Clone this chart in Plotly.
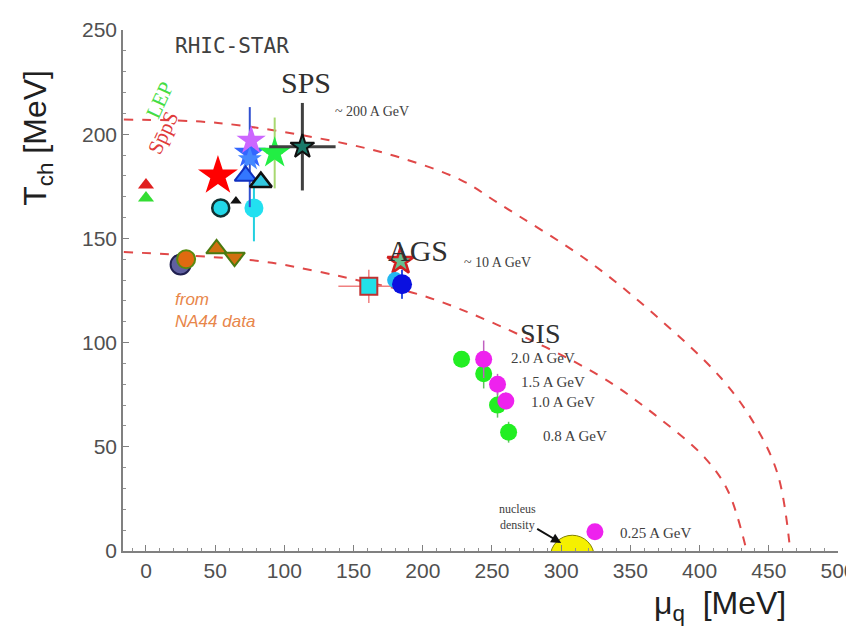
import plotly.graph_objects as go

# ---- freeze-out curves ----
outer_mu = [-16, 52, 131.5, 180, 227.6, 254.3, 319.4, 367.8, 415.5, 440, 456.6, 465.5]
outer_T = [207, 205.4, 197.2, 189.5, 178, 167, 139.2, 113.2, 83, 60.5, 36.5, 0]
inner_mu = [-16, 83, 122, 155.3, 198.7, 254.3, 326.6, 367.8, 404, 420.5, 434]
inner_T = [143.5, 139, 134.4, 129.6, 122.8, 108.4, 84.5, 65.3, 44.6, 28.8, 0]

# ---- data points ----
lep_mu = [0]; lep_T_red = [175.6]; lep_T_green = [169.4]
rhic_mu = [52]; rhic_T = [180]
cyc_mu = [54]; cyc_T = [164.6]
blk_mu = [65]; blk_T = [168]
cy2_mu = [78]; cy2_T = [164.6]; cy2_up = [10]; cy2_dn = [16]
btri_mu = [72]; btri_T = [180]
ctri_mu = [83]; ctri_T = [177]
vstar_mu = [76]; vstar_T = [197]
bstar_mu = [75]; bstar_T = [191]; bstar_up = [22]; bstar_dn = [26]
gstar_mu = [93]; gstar_T = [191]; gstar_up = [17]; gstar_dn = [17]
dstar_mu = [113]; dstar_T = [194]; dstar_ex = [24]; dstar_up = [21]; dstar_dn = [21]
na_navy_mu = [25]; na_navy_T = [137.5]
na_or_mu = [29]; na_or_T = [140]
na_tu_mu = [51]; na_tu_T = [145]
na_td_mu = [64]; na_td_T = [141]
ags_sq_mu = [161]; ags_sq_T = [127]; ags_sq_ex = [22]; ags_sq_ey = [8]
ags_star_mu = [184]; ags_star_T = [139]
ags_cc_mu = [180]; ags_cc_T = [130]
ags_bc_mu = [185]; ags_bc_T = [128]; ags_bc_ey = [7]
sis_g_mu = [228, 244, 254, 262]; sis_g_T = [92, 85, 70, 57]; sis_g_ey = [0, 7, 6, 5]
sis_m_mu = [244, 254, 260, 324.4]; sis_m_T = [92, 80, 72, 9.2]; sis_m_ey = [9, 5, 4, 0]
nuc_mu = [308]; nuc_T = [-3]

x_ticks = [0, 50, 100, 150, 200, 250, 300, 350, 400, 450, 500]
y_ticks = [0, 50, 100, 150, 200, 250]

fig = go.Figure()
red_line = "#e04848"
fig.add_trace(go.Scatter(x=outer_mu, y=outer_T, mode="lines", line=dict(color=red_line, width=2, dash="dash", shape="spline")))
fig.add_trace(go.Scatter(x=inner_mu, y=inner_T, mode="lines", line=dict(color=red_line, width=2, dash="dash", shape="spline")))

def pts(x, y, symbol, color, size, lc=None, lw=0, ey=None, eyd=None, ex=None, ecol=None, ew=2):
    kw = {}
    if ey is not None:
        kw["error_y"] = dict(type="data", array=ey, arrayminus=eyd if eyd is not None else ey,
                             color=ecol or color, thickness=ew, width=0)
    if ex is not None:
        kw["error_x"] = dict(type="data", array=ex, color=ecol or color, thickness=ew, width=0)
    fig.add_trace(go.Scatter(x=x, y=y, mode="markers",
                             marker=dict(symbol=symbol, color=color, size=size,
                                         line=dict(color=lc or color, width=lw)), **kw))

# LEP / SppS
pts(lep_mu, lep_T_red, "triangle-up", "#e02020", 14)
pts(lep_mu, lep_T_green, "triangle-up", "#33dd33", 14)
# NA44
pts(na_navy_mu, na_navy_T, "circle", "#6060a0", 20, "#202050", 2)
pts(na_or_mu, na_or_T, "circle", "#e06a10", 18, "#5a8a10", 2)
pts(na_tu_mu, na_tu_T, "triangle-up", "#d07010", 18, "#4a7a10", 2)
pts(na_td_mu, na_td_T, "triangle-down", "#d07010", 18, "#4a7a10", 2)
# SPS cluster
pts(cy2_mu, cy2_T, "circle", "#22e0f0", 19, ey=cy2_up, eyd=cy2_dn, ecol="#22d0e0")
pts(cyc_mu, cyc_T, "circle", "#22d8e8", 17, "#103030", 2.5)
pts(blk_mu, blk_T, "triangle-up", "#111111", 10)
pts(bstar_mu, bstar_T, "star", "#3366ff", 24, ey=bstar_up, eyd=bstar_dn, ecol="#3050d0")
pts(vstar_mu, vstar_T, "star", "#cc66ff", 22)
pts(bstar_mu, [188], "star", "#4488ff", 18)
pts(btri_mu, btri_T, "triangle-up", "#3377ff", 19, "#1030c0", 2)
pts(ctri_mu, ctri_T, "triangle-up", "#33c8e0", 19, "#101010", 2.5)
pts(gstar_mu, gstar_T, "star", "#22ee44", 24, ey=gstar_up, eyd=gstar_dn, ex=[6], ecol="#a8d870")
pts(dstar_mu, dstar_T, "star", "#1a7a6a", 18, "#101010", 2, ey=dstar_up, eyd=dstar_dn, ex=dstar_ex, ecol="#404040", ew=3)
pts(rhic_mu, rhic_T, "star", "#ff0000", 30)
# AGS
pts(ags_sq_mu, ags_sq_T, "square", "#22e0e8", 17, "#c03030", 2, ey=ags_sq_ey, ex=ags_sq_ex, ecol="#f08080", ew=1.5)
pts(ags_star_mu, ags_star_T, "star", "#66c090", 20, "#d02020", 2.5)
pts(ags_cc_mu, ags_cc_T, "circle", "#22b8f0", 16)
pts(ags_bc_mu, ags_bc_T, "circle", "#0a10e0", 20, ey=ags_bc_ey, ecol="#3050e0")
# SIS
pts(sis_g_mu, sis_g_T, "circle", "#22ee22", 17, ey=sis_g_ey, ecol="#60c060", ew=1.5)
pts(sis_m_mu, sis_m_T, "circle", "#ee22ee", 17, ey=sis_m_ey, ecol="#c060c0", ew=1.5)
# nuclear density (lower part clipped by the axis)
fig.add_trace(go.Scatter(x=nuc_mu, y=nuc_T, mode="markers", cliponaxis=True,
                         marker=dict(symbol="circle", color="#f5f000", size=44, line=dict(color="#808000", width=1))))

serif = "Liberation Serif"
lab = "#404040"
anns = [
    dict(x=62, y=242.3, text="RHIC-STAR", font=dict(family="DejaVu Sans Mono", size=21, color="#404040")),
    dict(x=10, y=216.4, text="LEP", font=dict(family=serif, size=21, color="#44dd44"), textangle=-65),
    dict(x=12.3, y=200.6, text="Sp\u0304pS", font=dict(family=serif, size=21, color="#e03a3a"), textangle=-65),
    dict(x=115.6, y=224.6, text="SPS", font=dict(family=serif, size=30, color="#303030")),
    dict(x=163.3, y=211, text="~ 200 A GeV", font=dict(family=serif, size=14, color=lab)),
    dict(x=196.5, y=144, text="AGS", font=dict(family=serif, size=30, color="#303030")),
    dict(x=254.3, y=138.4, text="~ 10 A GeV", font=dict(family=serif, size=14, color=lab)),
    dict(x=284.7, y=104.5, text="SIS", font=dict(family=serif, size=28, color="#303030")),
    dict(x=286.8, y=92.8, text="2.0 A GeV", font=dict(family=serif, size=15, color=lab)),
    dict(x=294, y=81.3, text="1.5 A GeV", font=dict(family=serif, size=15, color=lab)),
    dict(x=301.3, y=71.3, text="1.0 A GeV", font=dict(family=serif, size=15, color=lab)),
    dict(x=310, y=55, text="0.8 A GeV", font=dict(family=serif, size=15, color=lab)),
    dict(x=367.8, y=8.6, text="0.25 A GeV", font=dict(family=serif, size=15, color=lab)),
    dict(x=19.5, y=115.6, text="<i>from<br>NA44 data</i>", font=dict(family="Liberation Sans", size=17, color="#e8864a"),
         align="left", xanchor="left"),
]
for a in anns:
    a.setdefault("showarrow", False)
    a["xref"] = "x"; a["yref"] = "y"
    fig.add_annotation(**a)

fig.add_annotation(x=300, y=3.8, ax=-44, ay=-26, xref="x", yref="y", axref="pixel", ayref="pixel",
                   text="nucleus<br>density", showarrow=True, arrowhead=2, arrowsize=1, arrowwidth=2,
                   arrowcolor="#101010", font=dict(family=serif, size=12, color=lab), standoff=0)

# axis titles
fig.add_annotation(xref="paper", yref="paper", x=-0.119, y=0.793, xanchor="center", yanchor="middle",
                   text="T<sub>ch</sub> [MeV]", showarrow=False,
                   textangle=-90, font=dict(family="Liberation Sans", size=32, color="#202020"))
fig.add_annotation(xref="paper", yref="paper", x=0.93, y=-0.062, text="\u03bc<sub>q</sub>  [MeV]", showarrow=False,
                   xanchor="right", yanchor="top", font=dict(family="Liberation Sans", size=32, color="#202020"))

axis_common = dict(showgrid=False, zeroline=False, showline=True, linecolor="#808080", linewidth=1.5,
                   ticks="inside", tickcolor="#808080", ticklen=6, tickfont=dict(family="Liberation Sans", size=21, color="#505050"),
                   minor=dict(ticks="inside", ticklen=3, tickcolor="#909090", dtick=10), automargin=False)
fig.update_xaxes(range=[-16.6, 500], tickvals=x_ticks, **axis_common)
fig.update_yaxes(range=[0, 250], tickvals=y_ticks, **axis_common)

fig.update_layout(width=854, height=629, showlegend=False, plot_bgcolor="white", paper_bgcolor="white",
                  margin=dict(l=115, r=24, t=22, b=86))
fig.write_html("out.html")
